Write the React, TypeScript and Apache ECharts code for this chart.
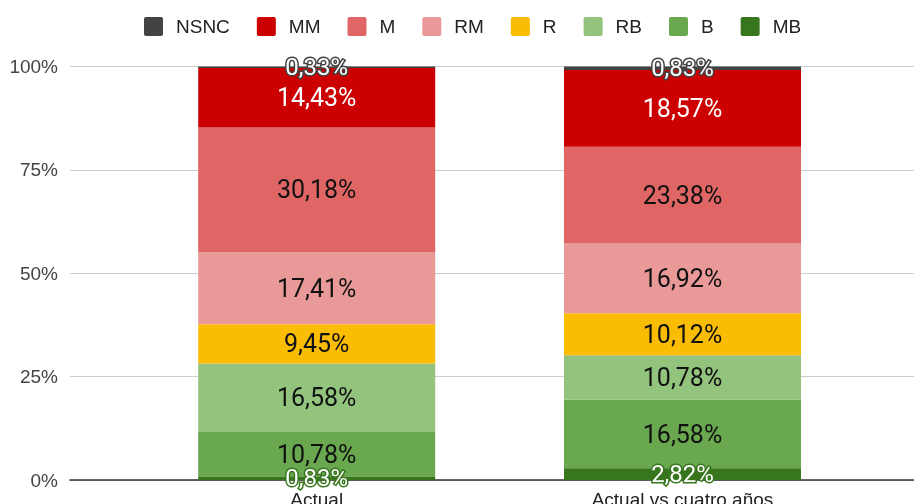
import React, { useEffect, useRef } from "react";
import * as echarts from "echarts";

const categories = ["Actual", "Actual vs cuatro años"];
const legendOrder = ["NSNC", "MM", "M", "RM", "R", "RB", "B", "MB"];
const nsncValues = [0.33, 0.83];
const mmValues = [14.43, 18.57];
const mValues = [30.18, 23.38];
const rmValues = [17.41, 16.92];
const rValues = [9.45, 10.12];
const rbValues = [16.58, 10.78];
const bValues = [10.78, 16.58];
const mbValues = [0.83, 2.82];
const yMin = 0;
const yMax = 100;
const yInterval = 25;

const AXIS_FONT = "'Liberation Sans', Arial, sans-serif";
const LABEL_FONT = "Roboto, 'Liberation Sans', sans-serif";
const LEGEND_ICON =
  "path://M2,0 H17 A2,2 0 0 1 19,2 V17 A2,2 0 0 1 17,19 H2 A2,2 0 0 1 0,17 V2 A2,2 0 0 1 2,0 Z";

const fmt = (v: number) => v.toFixed(2).replace(".", ",") + "%";

export default function App() {
  const ref = useRef<HTMLDivElement>(null);
  useEffect(() => {
    document.body.style.margin = "0";
    if (!ref.current) return;
    const chart = echarts.init(ref.current, undefined, { renderer: "svg" });

    const stackDefs = [
      { name: "MB", data: mbValues, color: "#38761d", labelColor: "#ffffff", border: "#38761d", z: 3 },
      { name: "B", data: bValues, color: "#6aa84f", labelColor: "#111111" },
      { name: "RB", data: rbValues, color: "#93c47d", labelColor: "#111111" },
      { name: "R", data: rValues, color: "#fbbc04", labelColor: "#111111" },
      { name: "RM", data: rmValues, color: "#ea9999", labelColor: "#111111" },
      { name: "M", data: mValues, color: "#e06666", labelColor: "#111111" },
      { name: "MM", data: mmValues, color: "#cc0000", labelColor: "#ffffff" },
      { name: "NSNC", data: nsncValues, color: "#434343", labelColor: "#ffffff", border: "#434343", z: 3 },
    ];

    const series = stackDefs.map((d: any) => ({
      name: d.name,
      type: "bar",
      stack: "total",
      xAxisIndex: 1,
      yAxisIndex: 1,
      barWidth: 237,
      z: d.z || 2,
      data: d.data,
      itemStyle: { color: d.color },
      label: {
        show: true,
        position: "inside",
        formatter: (p: any) => fmt(p.value),
        fontFamily: LABEL_FONT,
        fontSize: d.border ? 24 : 25,
        color: d.labelColor,
        textBorderColor: d.border || "transparent",
        textBorderWidth: d.border ? 3 : 0,
      },
      emphasis: { disabled: true },
    }));

    chart.setOption({
      animation: false,
      legend: {
        data: legendOrder,
        top: 12,
        left: 139,
        itemWidth: 19,
        itemHeight: 19,
        itemGap: 27,
        icon: LEGEND_ICON,
        textStyle: {
          fontFamily: AXIS_FONT,
          fontSize: 19,
          color: "#222222",
          padding: [0, 0, 0, 8],
        },
      },
      grid: [
        { left: 70, right: 0, top: 66.5, bottom: 24, containLabel: false, outerBoundsMode: "none" },
        { left: 133.8, right: 48.6, top: 66.5, bottom: 24, containLabel: false, outerBoundsMode: "none" },
      ],
      xAxis: [
        {
          type: "category",
          gridIndex: 0,
          data: [""],
          axisLine: { show: true, lineStyle: { color: "#333333", width: 1.5 } },
          axisTick: { show: false },
          axisLabel: { show: false },
        },
        {
          type: "category",
          gridIndex: 1,
          data: categories,
          axisLine: { show: false },
          axisTick: { show: false },
          axisLabel: {
            fontFamily: AXIS_FONT,
            fontSize: 19,
            color: "#222222",
            margin: 10,
          },
        },
      ],
      yAxis: [
        {
          type: "value",
          gridIndex: 0,
          min: yMin,
          max: yMax,
          interval: yInterval,
          axisLine: { show: false },
          axisTick: { show: false },
          axisLabel: {
            formatter: "{value}%",
            fontFamily: AXIS_FONT,
            fontSize: 19,
            color: "#444444",
            margin: 12,
          },
          splitLine: { lineStyle: { color: "#cccccc", width: 1 } },
        },
        {
          type: "value",
          gridIndex: 1,
          min: yMin,
          max: yMax,
          interval: yInterval,
          show: false,
          splitLine: { show: false },
        },
      ],
      series,
    });
    return () => chart.dispose();
  }, []);
  return (
    <div
      ref={ref}
      style={{ position: "fixed", left: 0, top: 0, width: 914, height: 504 }}
    />
  );
}
